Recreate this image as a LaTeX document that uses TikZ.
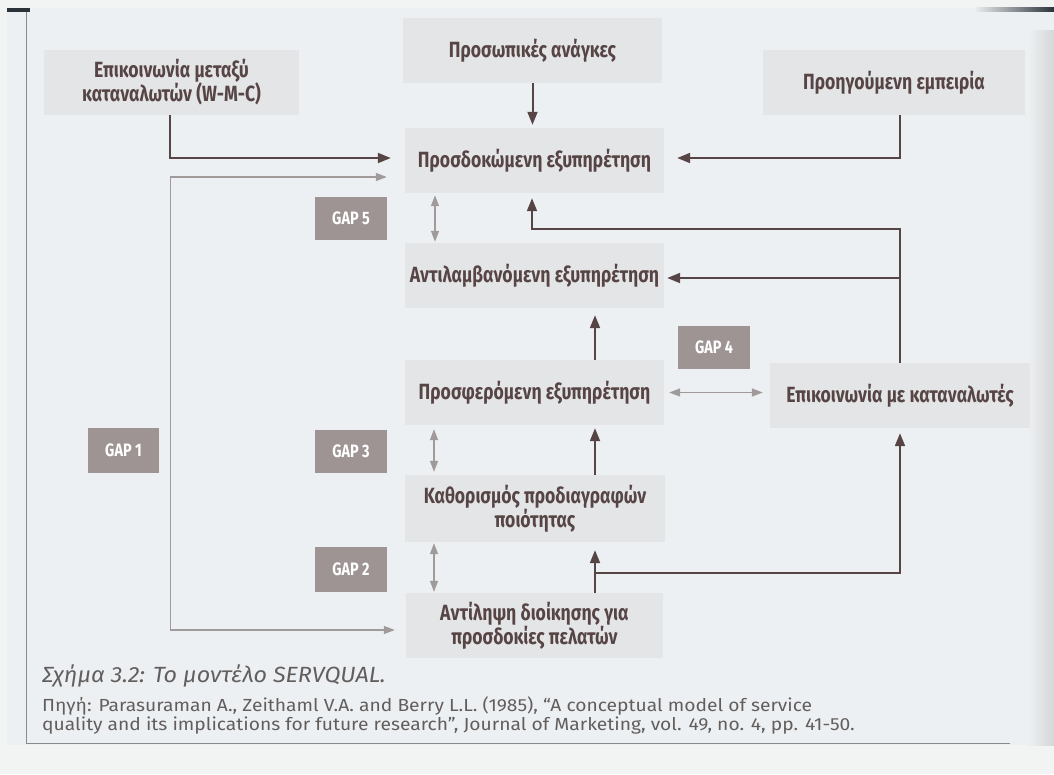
\documentclass[tikz,border=0pt]{standalone}
\usepackage{fontspec}
\setmainfont{Fira Sans}
\newfontfamily\dgfont[FakeStretch=0.8]{Fira Sans}
\newfontfamily\capfont[FakeStretch=1.06]{Fira Sans}
\newfontfamily\srcfont[FakeStretch=1.1]{Fira Sans}
\usetikzlibrary{arrows.meta,calc}
\definecolor{bg}{HTML}{EDF0F2}
\definecolor{outer}{HTML}{F2F3F3}
\definecolor{boxfill}{HTML}{E4E5E7}
\definecolor{ink}{HTML}{574545}
\definecolor{gapfill}{HTML}{9E9494}
\definecolor{garrow}{HTML}{A09A9A}
\definecolor{capink}{HTML}{625E5E}
\definecolor{frame}{HTML}{8A8A8C}
\definecolor{scan}{HTML}{2B323A}
\begin{document}
\begin{tikzpicture}[x=1pt,y=-1pt,
 box/.style={fill=boxfill, draw=none, minimum width=259pt, minimum height=65pt, inner sep=0pt, align=center,
   font=\dgfont\bfseries\fontsize{22}{24}\selectfont, text=ink},
 gapbox/.style={fill=gapfill, draw=none, minimum width=72pt, minimum height=43pt, inner sep=0pt,
   font=\dgfont\bfseries\fontsize{18}{20}\selectfont, text=white},
 darr/.style={draw=ink, line width=2pt, -{Triangle[length=13pt,width=10pt]}},
 garr/.style={draw=garrow, line width=1.3pt, {Triangle[length=11pt,width=8pt]}-{Triangle[length=11pt,width=8pt]}},
 captxt/.style={anchor=base west, inner sep=0pt, text=capink},
]
% background and page
\fill[outer] (0,0) rectangle (1054,774);
\fill[bg] (7,8) rectangle (1054,745);
\fill[scan] (7,8) rectangle (30,12);
\shade[left color=bg, right color=scan] (974,7) rectangle (1054,11);
\shade[left color=bg, right color=black!16] (1028,30) rectangle (1054,745);
\draw[frame, line width=0.9pt] (26,12) -- (26,743) -- (1010,743);

% boxes
\node[box] (pn) at (532.5,50.5) {Προσωπικές ανάγκες};
\node[box, minimum width=255pt] (wmc) at (171.5,82.5) {Επικοινωνία μεταξύ\\καταναλωτών (W-M-C)};
\node[box, minimum width=262pt] (prev) at (894,82.5) {Προηγούμενη εμπειρία};
\node[box] (exp) at (534.5,160.5) {Προσδοκώμενη εξυπηρέτηση};
\node[box] (perc) at (534.5,275.5) {Αντιλαμβανόμενη εξυπηρέτηση};
\node[box] (deliv) at (534.5,392.5) {Προσφερόμενη εξυπηρέτηση};
\node[box, minimum width=260pt] (comm) at (900,395.5) {Επικοινωνία με καταναλωτές};
\node[box, minimum width=260pt, minimum height=67pt] (spec) at (535,508.5) {Καθορισμός προδιαγραφών\\ποιότητας};
\node[box, minimum width=257pt] (mgmt) at (534.5,625.5) {Αντίληψη διοίκησης για\\προσδοκίες πελατών};

% gap labels
\node[gapbox] (g5) at (351,218.5) {GAP 5};
\node[gapbox] (g4) at (714,347) {GAP 4};
\node[gapbox] (g3) at (351,451.5) {GAP 3};
\node[gapbox, minimum width=71pt, minimum height=45pt] (g1) at (123.5,450.5) {GAP 1};
\node[gapbox, minimum height=45pt] (g2) at (351,569.5) {GAP 2};

% junction points
\coordinate (j1) at (900,229);
\coordinate (j2) at (900,278);
\coordinate (j3) at (595,573);

% dark connectors
\draw[darr, shorten >=3pt] (pn.south) -- (pn.south |- exp.north);
\draw[darr, shorten >=14pt] ([xshift=-2pt]wmc.south) |- ([yshift=2.5pt]exp.west);
\draw[darr, shorten >=13pt] ([xshift=6pt]prev.south) |- ([yshift=2.5pt]exp.east);
\draw[darr, shorten >=5pt] (comm.north) -- (j1) -| ([xshift=-2.5pt]exp.south);
\draw[darr, shorten >=3pt] (j2) -- (j2 -| perc.east);
\draw[darr, shorten >=7pt] ([xshift=60.5pt]deliv.north) -- ([xshift=60.5pt]perc.south);
\draw[darr, shorten >=3pt] ([xshift=60pt]spec.north) -- ([xshift=60pt]spec.north |- deliv.south);
\draw[darr, shorten >=8pt] ([xshift=60.5pt]mgmt.north) -- ([xshift=60.5pt]mgmt.north |- spec.south);
\draw[darr, shorten >=5pt] (j3) -| (comm.south);

% grey gap connectors
\draw[garr, shorten <=18pt, shorten >=11pt] ([yshift=-16.5pt]exp.west) -- ++(-234,0) |- ([yshift=-4.5pt]mgmt.west);
\draw[garr, shorten <=2pt, shorten >=1pt] ([xshift=-99.5pt]exp.south) -- ([xshift=-99.5pt]perc.north);
\draw[garr, shorten <=5pt, shorten >=7pt] (deliv.east) -- (deliv.east -| comm.west);
\draw[garr, shorten <=4pt, shorten >=3pt] ([xshift=-100.5pt]deliv.south) -- ([xshift=-100.5pt]deliv.south |- spec.north);
\draw[garr, shorten <=1pt, shorten >=1pt] ([xshift=-101pt]spec.south) -- ([xshift=-101pt]spec.south |- mgmt.north);

% caption
\node[captxt, font=\capfont\itshape\fontsize{22}{24}\selectfont] (cap) at (42,682) {Σχήμα 3.2: Το μοντέλο SERVQUAL.};
\node[captxt, font=\srcfont\fontsize{17.5}{20}\selectfont] (src1) at (42,711) {Πηγή: Parasuraman A., Zeithaml V.A. and Berry L.L. (1985), “A conceptual model of service};
\node[captxt, font=\srcfont\fontsize{17.5}{20}\selectfont] (src2) at (42,730) {quality and its implications for future research”, Journal of Marketing, vol. 49, no. 4, pp. 41-50.};
\end{tikzpicture}
\end{document}
